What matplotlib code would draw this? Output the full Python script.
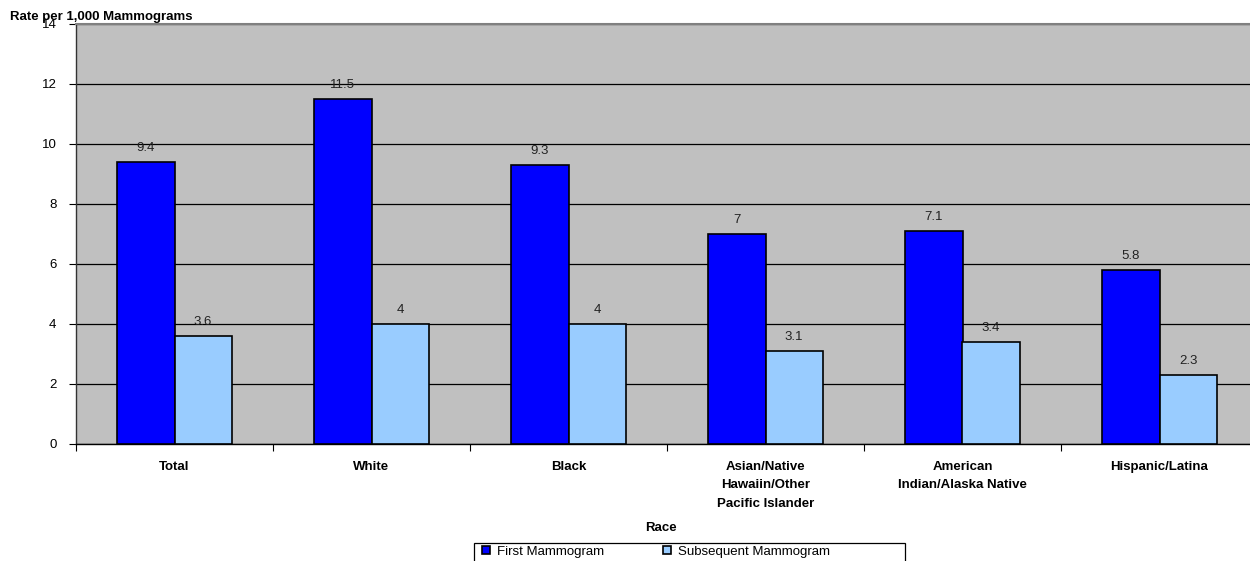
import matplotlib
matplotlib.use("Agg")
import matplotlib.pyplot as plt
from matplotlib.patches import Rectangle
import numpy as np

categories = ["Total", "White", "Black", "Asian/Native\nHawaiin/Other\nPacific Islander",
              "American\nIndian/Alaska Native", "Hispanic/Latina"]
first = [9.4, 11.5, 9.3, 7.0, 7.1, 5.8]
subsequent = [3.6, 4.0, 4.0, 3.1, 3.4, 2.3]
first_labels = ["9.4", "11.5", "9.3", "7", "7.1", "5.8"]
subsequent_labels = ["3.6", "4", "4", "3.1", "3.4", "2.3"]
yticks = [0, 2, 4, 6, 8, 10, 12, 14]

plt.rcParams["font.family"] = ["Liberation Sans", "DejaVu Sans"]
FS = 9.5

fig = plt.figure(figsize=(12.5, 5.61), dpi=100)
ax = fig.add_axes([76 / 1250, 117 / 561, (1258 - 76) / 1250, 420 / 561])
ax.set_facecolor("#C0C0C0")

x = np.arange(len(categories))
w = 0.29
b1 = ax.bar(x - w / 2, first, w, color="#0000FF", edgecolor="black", linewidth=1.2,
            label="First Mammogram", zorder=3)
b2 = ax.bar(x + w / 2, subsequent, w, color="#99CCFF", edgecolor="black", linewidth=1.2,
            label="Subsequent Mammogram", zorder=3)

for rects, labels in ((b1, first_labels), (b2, subsequent_labels)):
    for r, t in zip(rects, labels):
        ax.annotate(t, (r.get_x() + r.get_width() / 2, r.get_height()),
                    xytext=(0, 6), textcoords="offset points",
                    ha="center", va="bottom", fontsize=FS, color="#222222")

ax.set_xlim(-0.5, len(categories) - 0.5)
ax.set_ylim(0, 14)
ax.set_yticks(yticks)
ax.set_yticklabels([str(v) for v in yticks], fontsize=FS)
ax.yaxis.grid(True, color="black", linewidth=0.9, zorder=0)
ax.set_axisbelow(True)

ax.set_xticks(np.arange(len(categories) + 1) - 0.5, minor=False)
ax.set_xticklabels([])
ax.set_xticks(x, minor=True)
ax.set_xticklabels(categories, minor=True, fontsize=FS, fontweight="bold",
                   linespacing=1.75, va="top")
ax.tick_params(axis="x", which="minor", length=0, pad=12)
ax.tick_params(axis="x", which="major", length=5, direction="out", color="black")
ax.tick_params(axis="y", length=5, direction="out", color="black", pad=9)

ax.spines["right"].set_visible(False)
ax.spines["top"].set_color("#808080")
ax.spines["top"].set_linewidth(1.5)
ax.spines["left"].set_color("#333333")
ax.spines["bottom"].set_color("black")
ax.spines["left"].set_linewidth(1.0)
ax.spines["bottom"].set_linewidth(1.0)

fig.text(10 / 1250, 1 - 17 / 561, "Rate per 1,000 Mammograms", fontsize=FS,
         fontweight="bold", ha="left", va="center")
fig.text(661 / 1250, 1 - 528 / 561, "Race", fontsize=FS, fontweight="bold",
         ha="center", va="center")

# legend entries without their own frame; the box is drawn separately
leg = fig.legend(handles=[b1, b2], loc="upper left",
                 bbox_to_anchor=(479 / 1250, 1 - 543 / 561), ncol=2,
                 fontsize=FS, frameon=False,
                 handlelength=0.65, handleheight=0.65, handletextpad=0.55,
                 columnspacing=4.4, borderpad=0.2, borderaxespad=0)
fig.add_artist(Rectangle((474 / 1250, -0.01), (905 - 474) / 1250, (561 - 543) / 561 + 0.01,
                         transform=fig.transFigure, fill=False, edgecolor="black",
                         linewidth=0.9))

fig.savefig("out.png", dpi=100)
